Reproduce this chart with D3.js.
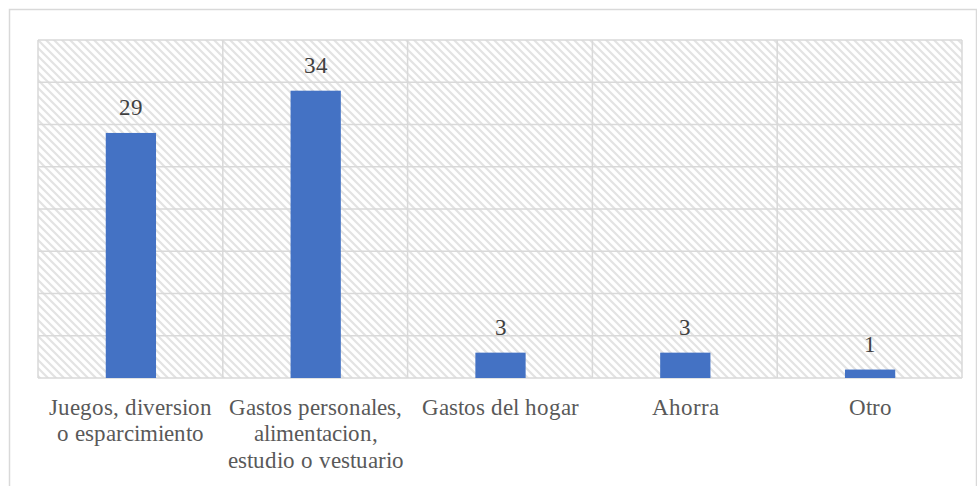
<!DOCTYPE html>
<html><head><meta charset="utf-8">
<script src="https://cdn.jsdelivr.net/npm/d3@7"></script>
<style>
@font-face{font-family:"ChartSerif";src:local("Liberation Serif"),local("LiberationSerif"),local("Times New Roman");}
body{margin:0;background:#fff}svg{display:block}
</style>
</head><body>
<svg id="c" width="977" height="486" font-family="ChartSerif, 'Liberation Serif', serif"></svg>
<script>
const categories = [
  ["Juegos, diversion", "o esparcimiento"],
  ["Gastos personales,", "alimentacion,", "estudio o vestuario"],
  ["Gastos del hogar"],
  ["Ahorra"],
  ["Otro"]
];
const values = [29, 34, 3, 3, 1];
const yTicks = [0, 5, 10, 15, 20, 25, 30, 35, 40];

const FONT = 'ChartSerif, "Liberation Serif", serif';
const svg = d3.select("#c");
const m = {left: 38, top: 40};
const pw = 962 - m.left, ph = 378 - m.top;

svg.append("rect").attr("x", 9.5).attr("y", 9.5).attr("width", 967).attr("height", 500)
  .attr("fill", "#fff").attr("stroke", "#d9d9d9").attr("stroke-width", 1.5);

const defs = svg.append("defs");
const pat = defs.append("pattern").attr("id", "hatch").attr("patternUnits", "userSpaceOnUse")
  .attr("width", 8).attr("height", 8);
pat.append("rect").attr("width", 8).attr("height", 8).attr("fill", "#fff");
pat.append("path").attr("d", "M-2,-2 L10,10 M-2,6 L2,10 M6,-2 L10,2")
  .attr("stroke", "#e3e3e3").attr("stroke-width", 2.2);

const g = svg.append("g").attr("transform", `translate(${m.left},${m.top})`);
const x = d3.scaleBand().domain(d3.range(values.length)).range([0, pw]).padding(0);
const y = d3.scaleLinear().domain([0, 40]).range([ph, 0]);

g.append("rect").attr("width", pw).attr("height", ph).attr("fill", "url(#hatch)");

g.selectAll("line.h").data(yTicks).join("line").attr("class", "h")
  .attr("x1", 0).attr("x2", pw).attr("y1", d => y(d)).attr("y2", d => y(d))
  .attr("stroke", "#d9d9d9").attr("stroke-width", 1.5);
g.selectAll("line.v").data(d3.range(values.length + 1)).join("line").attr("class", "v")
  .attr("x1", d => d * x.step()).attr("x2", d => d * x.step())
  .attr("y1", 0).attr("y2", ph)
  .attr("stroke", "#d9d9d9").attr("stroke-width", 1.5);

const bw = x.bandwidth() * 0.272;
g.selectAll("rect.bar").data(values).join("rect").attr("class", "bar")
  .attr("x", (d, i) => x(i) + x.bandwidth() / 2 - bw / 2 + 0.5)
  .attr("y", d => y(d)).attr("width", bw).attr("height", d => ph - y(d))
  .attr("fill", "#4472c4");

g.selectAll("text.val").data(values).join("text").attr("class", "val")
  .attr("x", (d, i) => x(i) + x.bandwidth() / 2 + 0.5)
  .attr("y", d => y(d) - 17.5)
  .attr("text-anchor", "middle")
  .style("font-family", FONT).style("font-size", "23px")
  .attr("fill", "#404040").text(d => d);

const lab = g.selectAll("text.cat").data(categories).join("text").attr("class", "cat")
  .attr("x", (d, i) => x(i) + x.bandwidth() / 2 + 0.5)
  .attr("y", ph + 37)
  .attr("text-anchor", "middle")
  .style("font-family", FONT).style("font-size", "23px")
  .attr("fill", "#595959");
lab.each(function(d, i) {
  const t = d3.select(this);
  d.forEach((line, j) => {
    t.append("tspan").attr("x", x(i) + x.bandwidth() / 2 + 0.5)
      .attr("dy", j === 0 ? 0 : 26.3).text(line);
  });
});
</script>
</body></html>
